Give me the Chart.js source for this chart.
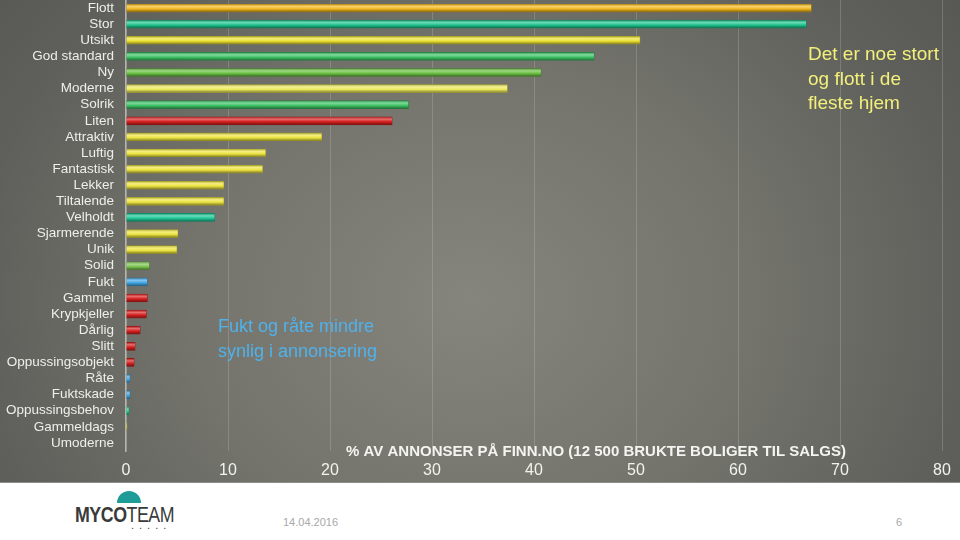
<!DOCTYPE html>
<html>
<head>
<meta charset="utf-8">
<script src="https://cdn.jsdelivr.net/npm/chart.js@4.4.1/dist/chart.umd.min.js"></script>
<style>
    html, body { margin: 0; padding: 0; background: #fff; }
    body { width: 960px; height: 540px; overflow: hidden; position: relative; font-family: "Liberation Sans", Arial, sans-serif; }
    #plot {
        position: absolute; left: 0; top: 0; width: 960px; height: 482px;
        background: radial-gradient(ellipse 620px 520px at 470px 300px, #85857d 0%, #74746d 45%, #5f605b 80%, #575853 100%);
        border-bottom: 1px solid #8c8c88;
    }
    .dome { position: absolute; left: 117px; top: 491px; width: 24px; height: 12px; background: #1f9c97; border-radius: 12px 12px 0 0; }
    .logo { position: absolute; left: 75px; top: 502px; font-size: 22px; color: #3a3a3a; letter-spacing: -0.6px; transform: scaleX(0.81); transform-origin: left; }
    .logo b { font-weight: bold; }
    .dots { position: absolute; left: 131px; top: 519px; font-size: 11px; color: #444; letter-spacing: 5px; }
    .date { position: absolute; left: 283px; top: 516px; font-size: 11px; color: #a8a8a8; }
    .page { position: absolute; left: 896px; top: 516px; font-size: 11px; color: #a8a8a8; }
</style>
</head>
<body>
<div id="plot"><canvas id="chart" width="960" height="482"></canvas></div>
<div class="dome"></div>
<div class="logo"><b>MYCO</b>TEAM</div>
<div class="dots">.....</div>
<div class="date">14.04.2016</div>
<div class="page">6</div>
<script>
// Words used in FINN.no ads, share of ads (%)
var categories = ['Flott', 'Stor', 'Utsikt', 'God standard', 'Ny', 'Moderne', 'Solrik', 'Liten',
    'Attraktiv', 'Luftig', 'Fantastisk', 'Lekker', 'Tiltalende', 'Velholdt', 'Sjarmerende', 'Unik',
    'Solid', 'Fukt', 'Gammel', 'Krypkjeller', 'Dårlig', 'Slitt', 'Oppussingsobjekt', 'Råte',
    'Fuktskade', 'Oppussingsbehov', 'Gammeldags', 'Umoderne'];
var shares = [67.2, 66.7, 50.4, 45.9, 40.7, 37.4, 27.7, 26.1,
    19.2, 13.7, 13.4, 9.6, 9.6, 8.7, 5.1, 5.0,
    2.3, 2.1, 2.1, 2.0, 1.4, 0.9, 0.8, 0.4,
    0.4, 0.3, 0.1, 0];
var xTicks = [0, 10, 20, 30, 40, 50, 60, 70, 80];
var barColors = ['#f2b81e', '#1ec48c', '#ece232', '#3ec466', '#6cc244', '#ecea5c', '#3ec466', '#d82020',
    '#ece440', '#ece440', '#ece440', '#ece440', '#ece440', '#1ec898', '#ece440', '#ece440',
    '#7cc452', '#44a8e6', '#d82020', '#d82020', '#d82020', '#d82020', '#d82020', '#44a8e6',
    '#44a8e6', '#20cc8c', '#ece440', '#ece440'];

function shade(hex, f) {
    var n = parseInt(hex.slice(1), 16);
    var r = (n >> 16) & 255, g = (n >> 8) & 255, b = n & 255;
    function m(v) { return Math.round(f < 0 ? v * (1 + f) : v + (255 - v) * f); }
    return 'rgb(' + m(r) + ',' + m(g) + ',' + m(b) + ')';
}

// cylinder-ish look for each bar
function barFill(c) {
    var base = barColors[c.dataIndex];
    var chart = c.chart;
    if (!chart.chartArea) return base;
    var y = chart.scales.y.getPixelForValue(c.dataIndex);
    var g = chart.ctx.createLinearGradient(0, y - 4, 0, y + 4);
    g.addColorStop(0, shade(base, -0.2));
    g.addColorStop(0.3, shade(base, 0.35));
    g.addColorStop(0.6, base);
    g.addColorStop(1, shade(base, -0.45));
    return g;
}

var notes = {
    id: 'notes',
    afterDraw: function (chart) {
        var ctx = chart.ctx, area = chart.chartArea;
        ctx.save();
        ctx.textBaseline = 'middle';
        ctx.font = '19px "Liberation Sans", Arial, sans-serif';
        ctx.fillStyle = '#f2f07a';
        ['Det er noe stort', 'og flott i de', 'fleste hjem'].forEach(function (t, i) {
            ctx.fillText(t, 808, 55 + i * 24.5);
        });
        ctx.font = '18px "Liberation Sans", Arial, sans-serif';
        ctx.fillStyle = '#4fb2ec';
        ['Fukt og råte mindre', 'synlig i annonsering'].forEach(function (t, i) {
            ctx.fillText(t, 218, 327 + i * 25);
        });
        ctx.font = 'bold 15px "Liberation Sans", Arial, sans-serif';
        ctx.fillStyle = '#f4f4f0';
        ctx.textAlign = 'center';
        ctx.fillText('% AV ANNONSER PÅ FINN.NO (12 500 BRUKTE BOLIGER TIL SALGS)', 596, area.bottom + 1, 532);
        ctx.restore();
    }
};

new Chart(document.getElementById('chart'), {
    type: 'bar',
    data: {
        labels: categories,
        datasets: [{
            data: shares,
            backgroundColor: barFill,
            borderColor: barColors.map(function (c) { return shade(c, -0.35); }),
            borderWidth: 0.6,
            borderSkipped: 'start',
            barThickness: 8
        }]
    },
    options: {
        indexAxis: 'y',
        responsive: false,
        animation: false,
        devicePixelRatio: 1,
        layout: { autoPadding: false, padding: { top: 0, right: 18, left: 0, bottom: 0 } },
        plugins: { legend: { display: false }, tooltip: { enabled: false } },
        scales: {
            x: {
                min: 0, max: 80,
                afterBuildTicks: function (s) { s.ticks = xTicks.map(function (v) { return { value: v }; }); },
                afterFit: function (s) { s.height = 31; s.paddingLeft = 0; s.paddingRight = 0; },
                grid: { color: 'rgba(220,220,210,0.22)', lineWidth: 1, drawTicks: false },
                border: { display: false },
                ticks: { color: '#f2f2ee', padding: 10, font: { size: 16, family: '"Liberation Sans Narrow", "Liberation Sans", Arial' } }
            },
            y: {
                afterFit: function (s) { s.width = 126; s.paddingTop = 0; s.paddingBottom = 0; },
                grid: { display: false, drawTicks: false },
                border: { color: '#b4b4ac', width: 1.5 },
                ticks: { color: '#eeeeea', padding: 12, autoSkip: false, font: { size: 13.5, family: '"Liberation Sans", Arial' } }
            }
        }
    },
    plugins: [notes]
});
</script>
</body>
</html>
